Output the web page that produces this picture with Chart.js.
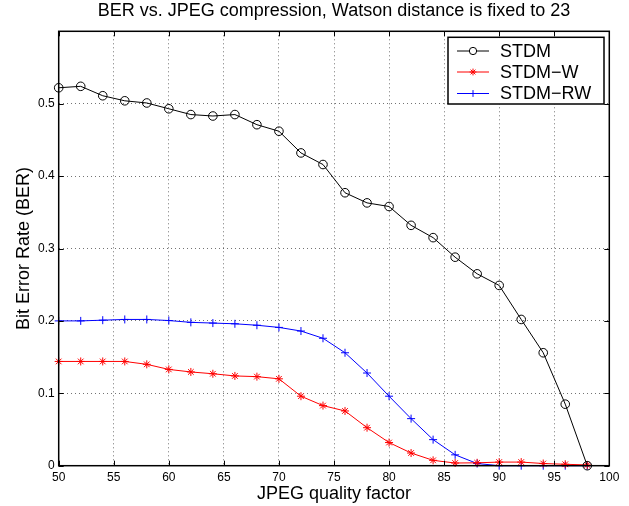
<!DOCTYPE html>
<html>
<head>
<meta charset="utf-8">
<script src="https://cdn.jsdelivr.net/npm/chart.js@4.4.1/dist/chart.umd.min.js"></script>
<style>
html,body{margin:0;padding:0;background:#fff;}
#wrap{width:629px;height:506px;position:relative;}
</style>
</head>
<body>
<div id="wrap"><canvas id="c" width="629" height="506"></canvas></div>
<script>
const quality = [50,52,54,56,58,60,62,64,66,68,70,72,74,76,78,80,82,84,86,88,90,92,94,96,98];
const stdm   = [0.522,0.524,0.511,0.504,0.501,0.493,0.485,0.483,0.485,0.471,0.462,0.432,0.416,0.377,0.363,0.358,0.332,0.315,0.288,0.265,0.249,0.202,0.156,0.085,0.0];
const stdmW  = [0.144,0.144,0.144,0.144,0.140,0.133,0.1295,0.127,0.124,0.123,0.120,0.096,0.083,0.0756,0.0525,0.032,0.0175,0.0074,0.0037,0.004,0.005,0.005,0.003,0.002,0.001];
const stdmRW = [0.200,0.200,0.201,0.202,0.202,0.2005,0.198,0.197,0.196,0.194,0.191,0.186,0.176,0.156,0.128,0.096,0.065,0.036,0.015,0.003,0.0,0.0,0.0,0.0,0.0];
const seriesNames = ['STDM','STDM\u2212W','STDM\u2212RW'];
const xTicks = [50,55,60,65,70,75,80,85,90,95,100];
const yTicks = [0,0.1,0.2,0.3,0.4,0.5,0.6];
const titleText = 'BER vs. JPEG compression, Watson distance is fixed to 23';
const xTitle = 'JPEG quality factor';
const yTitle = 'Bit Error Rate (BER)';

const FONT = '"Liberation Sans", Arial, Helvetica, sans-serif';

function pts(ys){ return quality.map((x,i)=>({x:x,y:ys[i]})); }

const boxPlugin = {
  id:'boxPlugin',
  afterDatasetsDraw(chart){
    const {ctx, chartArea:a, scales} = chart;
    ctx.save();
    ctx.strokeStyle = '#000';
    ctx.lineWidth = 1;
    ctx.beginPath();
    const tl = 5;
    xTicks.forEach(v=>{
      const x = Math.round(scales.x.getPixelForValue(v))+0.5;
      ctx.moveTo(x,a.bottom); ctx.lineTo(x,a.bottom-tl);
      ctx.moveTo(x,a.top); ctx.lineTo(x,a.top+tl);
    });
    yTicks.forEach(v=>{
      const y = Math.round(scales.y.getPixelForValue(v))+0.5;
      ctx.moveTo(a.left,y); ctx.lineTo(a.left+tl,y);
      ctx.moveTo(a.right,y); ctx.lineTo(a.right-tl,y);
    });
    ctx.stroke();
    ctx.lineWidth = 1.5;
    ctx.strokeRect(a.left, a.top, a.right-a.left, a.bottom-a.top);
    ctx.restore();
  },
  afterDraw(chart){
    const ctx = chart.ctx;
    ctx.save();
    const bx = 448, by = 37.3, bw = 156, bh = 66.7;
    ctx.fillStyle = '#fff';
    ctx.fillRect(bx,by,bw,bh);
    ctx.lineWidth = 1.5;
    ctx.strokeStyle = '#000';
    ctx.strokeRect(bx,by,bw,bh);
    const rows = [51, 72, 93.5];
    ctx.font = '18px ' + FONT;
    ctx.textBaseline = 'middle';
    ctx.textAlign = 'left';
    chart.data.datasets.forEach((ds,i)=>{
      const y = rows[i];
      ctx.strokeStyle = ds.borderColor;
      ctx.lineWidth = 1;
      ctx.beginPath();
      ctx.moveTo(457,y); ctx.lineTo(489,y);
      ctx.stroke();
      Chart.helpers.drawPoint(ctx, {
        pointStyle: ds.pointStyle, rotation:0, radius: ds.pointRadius*0.85, borderWidth: 1
      }, 473, y);
      ctx.fillStyle = '#000';
      ctx.fillText(ds.label, 500, y+1);
    });
    ctx.restore();
  }
};

new Chart(document.getElementById('c'), {
  type:'line',
  data:{
    datasets:[
      {label:seriesNames[0], data:pts(stdm), borderColor:'#000', backgroundColor:'rgba(0,0,0,0)', pointStyle:'circle', pointRadius:4.3, pointBorderWidth:1, borderWidth:1, pointBorderColor:'#000', pointBackgroundColor:'rgba(0,0,0,0)'},
      {label:seriesNames[1], data:pts(stdmW), borderColor:'#ff0000', backgroundColor:'#ff0000', pointStyle:'star', pointRadius:4, pointBorderWidth:1, borderWidth:1, pointBorderColor:'#ff0000'},
      {label:seriesNames[2], data:pts(stdmRW), borderColor:'#0000ff', backgroundColor:'#0000ff', pointStyle:'cross', pointRadius:4, pointBorderWidth:1, borderWidth:1, pointBorderColor:'#0000ff'}
    ]
  },
  options:{
    responsive:false,
    animation:false,
    devicePixelRatio:1,
    clip:false,
    layout:{padding:{left:0,right:19.7,top:0,bottom:0}},
    plugins:{
      legend:{display:false},
      tooltip:{enabled:false},
      title:{display:true, fullSize:false, text:titleText, color:'#000', font:{family:FONT, size:18, weight:'normal'}, padding:{top:0,bottom:9.7}}
    },
    scales:{
      x:{
        type:'linear', min:50, max:100,
        afterFit(s){ s.height = 40.3; },
        afterBuildTicks(s){ s.ticks = xTicks.map(v=>({value:v})); },
        grid:{color:'rgba(0,0,0,0.55)', lineWidth:1, drawTicks:false, tickLength:0},
        border:{display:false, dash:[1,3]},
        ticks:{color:'#000', padding:5, font:{family:FONT, size:12}, maxRotation:0, autoSkip:false},
        title:{display:true, text:xTitle, color:'#000', font:{family:FONT, size:18}, padding:{top:0,bottom:1}}
      },
      y:{
        type:'linear', min:0, max:0.6,
        afterFit(s){ s.width = 58.7; },
        afterBuildTicks(s){ s.ticks = yTicks.map(v=>({value:v})); },
        grid:{color:'rgba(0,0,0,0.55)', lineWidth:1, drawTicks:false, tickLength:0},
        border:{display:false, dash:[1,3]},
        ticks:{color:'#000', padding:4, font:{family:FONT, size:12}, autoSkip:false,
          callback:(v)=> v>=0.6 ? '' : String(Math.round(v*10)/10)},
        title:{display:true, text:yTitle, color:'#000', font:{family:FONT, size:18}, padding:{top:13,bottom:0}}
      }
    }
  },
  plugins:[boxPlugin]
});
</script>
</body>
</html>
